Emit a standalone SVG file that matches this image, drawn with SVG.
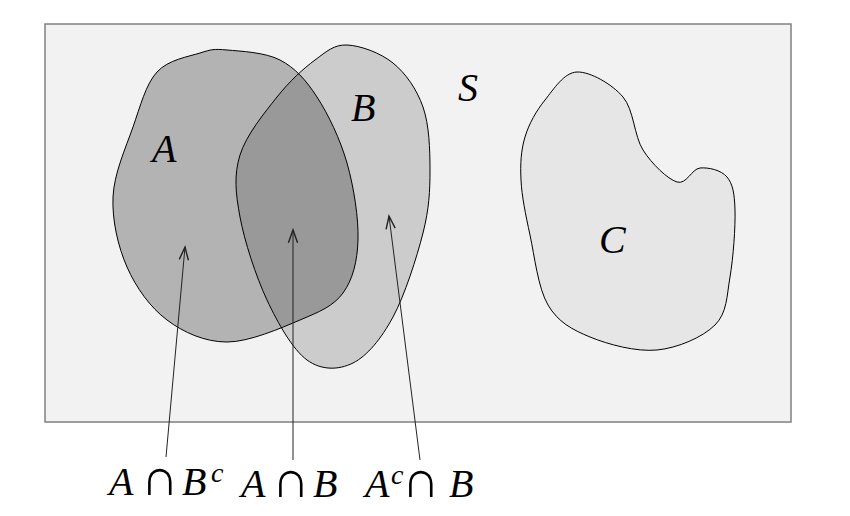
<svg xmlns="http://www.w3.org/2000/svg" width="850" height="516" viewBox="0 0 850 516">
<defs>
<style>
.lbl{font-family:"Liberation Serif","DejaVu Serif",serif;font-style:italic;font-size:40px;fill:#000}
.op{font-family:"Liberation Serif","DejaVu Serif",serif;font-style:normal;font-size:52px;fill:#000}
.sup{font-family:"Liberation Serif","DejaVu Serif",serif;font-style:italic;font-size:28px;fill:#000}
.outline{fill:none;stroke:#000;stroke-width:1}
.conn{stroke:#222;stroke-width:1;fill:none}
</style>
<path id="pA" d="M227,50 C240.3,51.2 265,52.2 280,60 C295,67.8 305.8,79.8 317,97 C328.2,114.2 340.2,139.2 347,163 C353.8,186.8 358.7,218.3 358,240 C357.3,261.7 352.7,279.7 343,293 C333.3,306.3 319.3,311.8 300,320 C280.7,328.2 249.2,342 227,342 C204.8,342 183.7,332.5 167,320 C150.3,307.5 136,287.5 127,267 C118,246.5 112,220.3 113,197 C114,173.7 125.7,147.8 133,127 C140.3,106.2 145.8,84.3 157,72 C168.2,59.7 188.3,56.7 200,53 C211.7,49.3 213.7,48.8 227,50 Z"/>
<path id="pB" d="M347,45 C360,45.5 380.3,52.7 393,63 C405.7,73.3 416.8,89.2 423,107 C429.2,124.8 430,149 430,170 C430,191 429.2,208.5 423,233 C416.8,257.5 404.7,295.3 393,317 C381.3,338.7 367.3,355.8 353,363 C338.7,370.2 321.3,370.5 307,360 C292.7,349.5 278.2,323.8 267,300 C255.8,276.2 244.5,241.2 240,217 C235.5,192.8 233.8,175 240,155 C246.2,135 264.5,112.8 277,97 C289.5,81.2 303.3,68.7 315,60 C326.7,51.3 334,44.5 347,45 Z"/>
<clipPath id="clipA"><use href="#pA"/></clipPath>
<marker id="arr" markerUnits="userSpaceOnUse" markerWidth="20" markerHeight="20" refX="0" refY="0" viewBox="-12 -6 14 12" orient="auto">
<path d="M-9,-3.2 L0,0 L-9,3.2" fill="none" stroke="#222" stroke-width="1"/>
</marker>
</defs>
<rect id="S" x="45" y="24" width="746" height="398" fill="#f2f2f2" stroke="#808080" stroke-width="1.5"/>
<g id="A"><use href="#pA" fill="#b3b3b3"/></g>
<g id="B"><use href="#pB" fill="#cccccc"/></g>
<g id="AB"><use href="#pB" fill="#999999" clip-path="url(#clipA)"/></g>
<g id="outlines">
<use href="#pA" class="outline"/>
<use href="#pB" class="outline"/>
</g>
<g id="C">
<path d="M577,72 C590,71.5 612,84 623,97 C634,110 634,135.8 643,150 C652,164.2 667.5,179 677,182 C686.5,185 691.7,168.8 700,168 C708.3,167.2 721.2,170 727,177 C732.8,184 734.5,193.3 735,210 C735.5,226.7 733.3,257.8 730,277 C726.7,296.2 727.2,312.8 715,325 C702.8,337.2 677.8,348 657,350 C636.2,352 608.2,344.5 590,337 C571.8,329.5 558,322 548,305 C538,288 534.5,255.8 530,235 C525.5,214.2 521.8,196.3 521,180 C520.2,163.7 521,150.3 525,137 C529,123.7 536.3,110.8 545,100 C553.7,89.2 564,72.5 577,72 Z" fill="#e6e6e6" stroke="#000" stroke-width="1"/>
<text class="lbl" x="599" y="253">C</text>
</g>
<text class="lbl" x="152" y="162">A</text>
<text class="lbl" x="351" y="121">B</text>
<text class="lbl" x="458" y="101">S</text>
<g id="connectors">
<line class="conn" x1="166" y1="457" x2="185" y2="247" marker-end="url(#arr)"/>
<line class="conn" x1="293" y1="460" x2="293" y2="230" marker-end="url(#arr)"/>
<line class="conn" x1="420" y1="460" x2="389" y2="216" marker-end="url(#arr)"/>
</g>
<g id="labels">
<text y="495"><tspan class="lbl" x="109">A</tspan><tspan class="op" x="141">∩</tspan><tspan class="lbl" x="182">B</tspan><tspan class="sup" x="211" y="482">c</tspan></text>
<text y="497"><tspan class="lbl" x="241">A</tspan><tspan class="op" x="272">∩</tspan><tspan class="lbl" x="313">B</tspan></text>
<text y="497"><tspan class="lbl" x="365">A</tspan><tspan class="sup" x="391" y="484">c</tspan><tspan class="op" x="402" y="497">∩</tspan><tspan class="lbl" x="449">B</tspan></text>
</g>
</svg>
